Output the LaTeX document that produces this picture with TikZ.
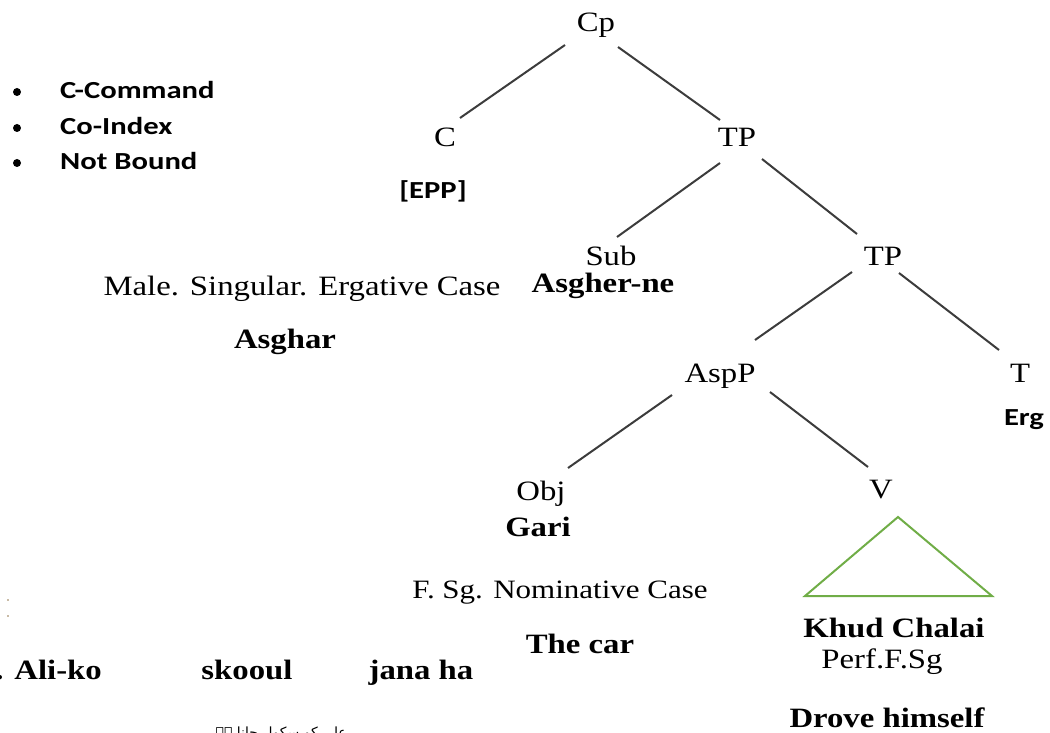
\documentclass[tikz,border=0pt]{standalone}
\usepackage{fontspec}
\setmainfont[FakeStretch=1.17]{Liberation Serif}
\newfontfamily\calib[FakeStretch=1.25]{Carlito}
\newfontfamily\urdufont[Script=Arabic]{DejaVu Sans}
\TeXXeTstate=1
\definecolor{linegray}{HTML}{3C3C3C}
\definecolor{trigreen}{HTML}{70AD47}
\definecolor{speck}{HTML}{C9BBA6}
\begin{document}
\begin{tikzpicture}[x=1pt,y=-1pt,
  lab/.style={inner sep=0pt, anchor=base, font=\fontsize{28}{32}\selectfont},
  blab/.style={inner sep=0pt, anchor=base, font=\fontsize{28}{32}\selectfont\bfseries},
  slab/.style={inner sep=0pt, anchor=base, font=\calib\fontsize{24.5}{28}\selectfont\bfseries},
  bullet/.style={circle, fill=black, inner sep=0pt, minimum size=8pt},
  branch/.style={draw=linegray, line width=2pt},
  roof/.style={draw=trigreen, line width=2pt, line join=miter},
]
\useasboundingbox (0,0) rectangle (1050,733);
\clip (0,0) rectangle (1050,733);

% legend
\node[bullet] (b1) at (17,92) {};
\node[bullet] (b2) at (17,128) {};
\node[bullet] (b3) at (17,163) {};
\node[slab, anchor=base west] (cc) at (60,99) {C-Command};
\node[slab, anchor=base west] (ci) at (60,135) {Co-Index};
\node[slab, anchor=base west] (nb) at (60,170) {Not Bound};

% tree nodes
\node[lab] (Cp) at (596,32) {Cp};
\node[lab] (C) at (445,147) {C};
\node[slab] (EPP) at (433,198) {[EPP]};
\node[lab] (TP1) at (737,147) {TP};
\node[lab] (Sub) at (611,265) {Sub};
\node[blab] (Asgherne) at (603,292) {Asgher-ne};
\node[lab] (TP2) at (883,265) {TP};
\node[lab] (MaleSg) at (302,295) {Male. Singular. Ergative Case};
\node[blab] (Asghar) at (285,348) {Asghar};
\node[lab] (AspP) at (720,382) {AspP};
\node[lab] (T) at (1020,382) {T};
\node[slab] (Erg) at (1024,425) {Erg};
\node[lab] (Obj) at (541,500) {Obj};
\node[lab] (V) at (881,498) {V};
\node[blab] (Gari) at (538,536) {Gari};
\node[lab, font=\fontsize{26.5}{30}\selectfont] (FSg) at (560,598) {F. Sg. Nominative Case};
\node[blab] (TheCar) at (580,653) {The car};
\node[blab] (Khud) at (894,637) {Khud Chalai};
\node[lab] (Perf) at (882,668) {Perf.F.Sg};
\node[blab] (Drove) at (887,727) {Drove himself};

% example sentence
\node[blab, anchor=base east] (AliKo) at (102,679) {. Ali-ko};
\node[blab] (Skooul) at (247,679) {skooul};
\node[blab] (Jana) at (421,679) {jana ha};
\node[inner sep=0pt, anchor=base east] (Urdu) at (347,737)
  {\urdufont\fontsize{14}{17}\selectfont\beginR علی کو سکول جانا ہے\endR};

% specks
\node[fill=speck, inner sep=0pt, minimum size=2.5pt] (s1) at (8,600) {};
\node[fill=speck, inner sep=0pt, minimum size=2.5pt] (s2) at (8,616) {};

% branch end points
\coordinate (Cp-l) at (565,45);  \coordinate (C-t) at (460,118);
\coordinate (Cp-r) at (618,47);  \coordinate (TP1-t) at (720,120);
\coordinate (TP1-l) at (720,163); \coordinate (Sub-t) at (617,237);
\coordinate (TP1-r) at (762,159); \coordinate (TP2-t) at (857,234);
\coordinate (TP2-l) at (852,272); \coordinate (AspP-t) at (755,340);
\coordinate (TP2-r) at (899,273); \coordinate (T-t) at (999,350);
\coordinate (AspP-l) at (672,395); \coordinate (Obj-t) at (568,468);
\coordinate (AspP-r) at (770,392); \coordinate (V-t) at (868,467);

\draw[branch] (Cp-l) -- (C-t);
\draw[branch] (Cp-r) -- (TP1-t);
\draw[branch] (TP1-l) -- (Sub-t);
\draw[branch] (TP1-r) -- (TP2-t);
\draw[branch] (TP2-l) -- (AspP-t);
\draw[branch] (TP2-r) -- (T-t);
\draw[branch] (AspP-l) -- (Obj-t);
\draw[branch] (AspP-r) -- (V-t);

% roof triangle
\coordinate (R-a) at (898,517);
\coordinate (R-l) at (805,596);
\coordinate (R-r) at (992,596);
\draw[roof] (R-a) -- (R-l) -- (R-r) -- cycle;
\end{tikzpicture}
\end{document}
